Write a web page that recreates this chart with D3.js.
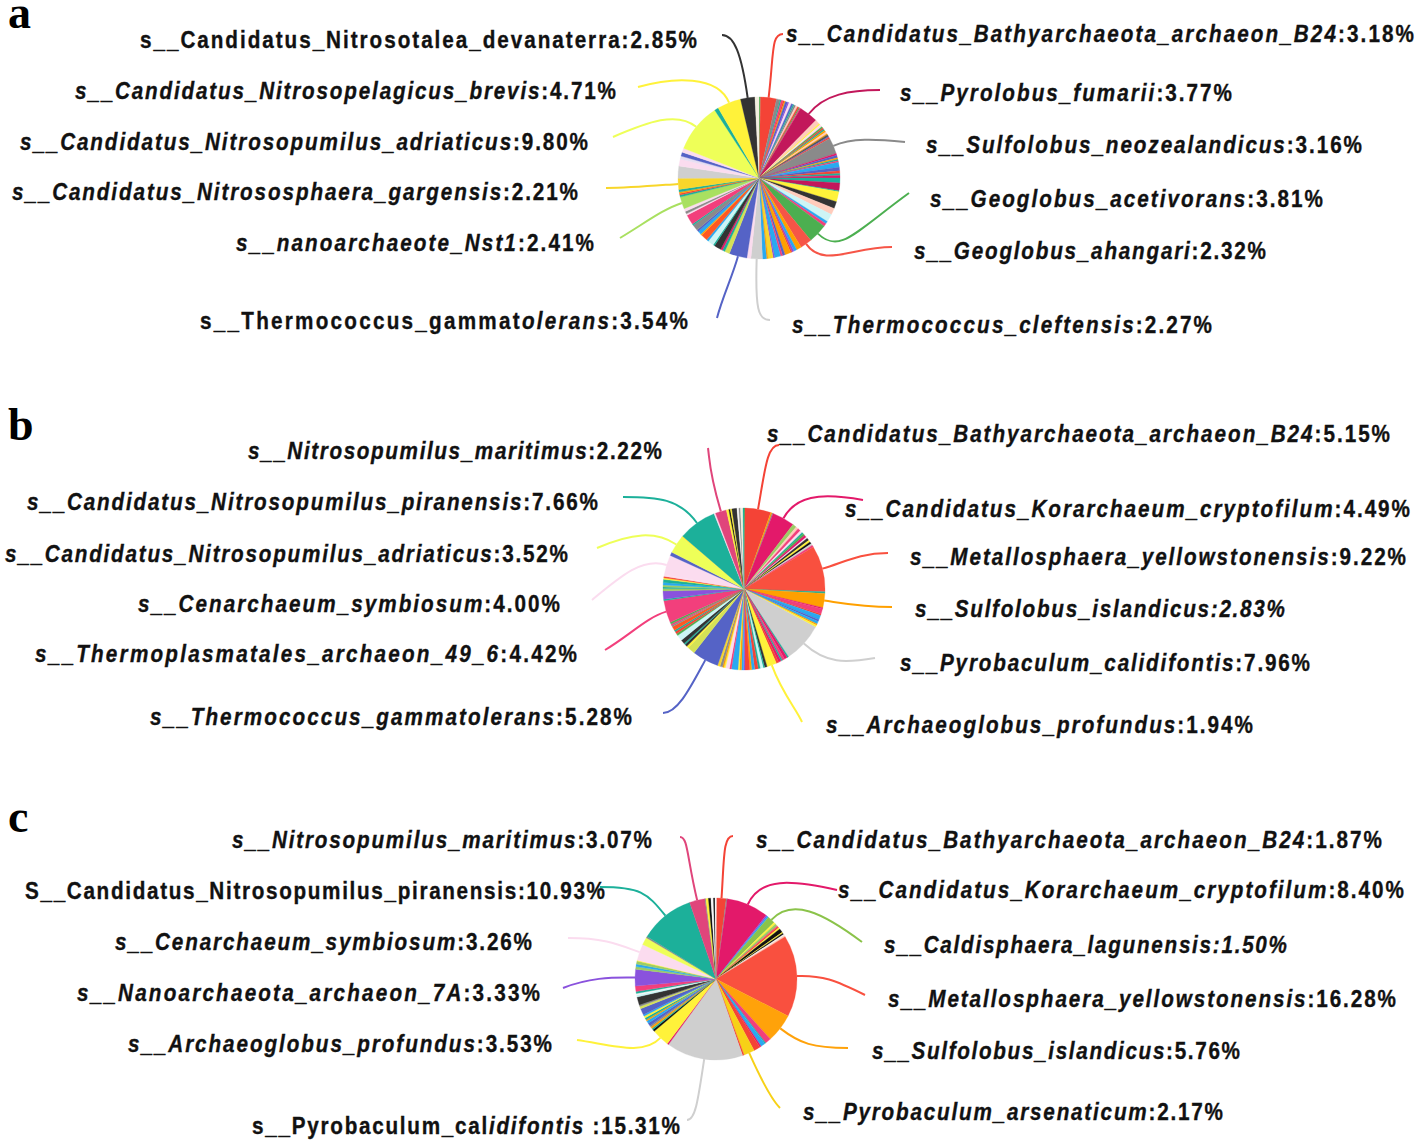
<!DOCTYPE html>
<html>
<head>
<meta charset="utf-8">
<script src="https://cdn.jsdelivr.net/npm/d3@7"></script>
<style>
  body { margin: 0; background: #fff; }
  text.lbl { font-family: "Liberation Sans", Arial, sans-serif; font-weight: bold; font-size: 23.5px; fill: #111; stroke: #111; stroke-width: 0.35px; }
  text.panel { font-family: "Liberation Serif", "DejaVu Serif", serif; font-weight: bold; font-size: 46px; fill: #000; }
</style>
</head>
<body>
<div id="chart"></div>
<script>
// palette
var R = "#f44336", RO = "#f9503f", OR = "#ff5722", O = "#ffa000", CR = "#e3196a", CRD = "#c2185b",
    HP = "#f23f7c", HPD = "#e0457b", T = "#1cb09a", Y = "#fff23a", LY = "#eeff58", GY = "#f8d62a",
    G = "#4caf50", LG = "#9ccc65", LG2 = "#a9e060", YG = "#d4e157", B = "#5563c6", SB = "#29a9f0",
    P = "#8a52dd", GR = "#8a8a8a", DG = "#555555", LGR = "#cfcfcf", DK = "#333333", BK = "#111111",
    PE = "#ffccbc", LP = "#fbdcef", LAV = "#e6def2", LC = "#cdf5f5", CM = "#f3efe0", W = "#f7f7f7";

function o(n) { return Array(n).fill(""); }

// ---- panel a : values (%), clockwise from 12 o'clock
var aValues = [
  0.3, 3.18,
  0.7, 0.25, 0.35, 0.3, 0.2, 0.45, 0.3, 0.5, 0.35, 0.25, 0.35, 0.4, 0.3, 0.2, 0.2,
  3.77,
  0.9, 0.3, 0.5, 0.3, 0.3, 0.3, 0.4, 0.4, 0.2, 0.4, 0.2, 0.3,
  3.16,
  0.4, 0.5, 0.3, 0.3, 0.3, 1.0, 0.7, 0.5, 0.4, 0.5, 1.0, 1.5, 0.2, 2.0, 1.4, 1.3, 1.6, 0.5, 0.6,
  3.81, 2.32,
  1.0, 0.6, 0.4, 0.3, 1.2, 0.5, 0.4, 1.2, 0.3, 1.0, 0.3, 0.8,
  2.27, 0.8, 3.54,
  1.0, 0.5, 0.4, 1.4, 0.3, 1.2, 0.4, 1.3, 0.3, 0.7, 0.4, 1.2, 0.3, 2.0, 0.3, 0.5, 0.6,
  2.41,
  0.4, 0.3, 0.3, 0.5,
  2.21,
  2.4, 1.4, 0.6, 0.8, 0.8,
  9.80, 0.8, 4.71, 2.85, 0.8
];
var aColors = [
  G, R,
  GR, T, HP, R, O, B, P, LP, B, T, GR, PE, R, G, HP,
  CRD,
  PE, Y, LP, G, R, T, O, PE, O, DG, B, R,
  GR,
  CR, B, O, T, HP, SB, B, R, T, CR, T, CRD, T, Y, DK, PE, LC, SB, HP,
  G, "#f65547",
  O, SB, P, R, O, B, HP, SB, P, GY, O, SB,
  LGR, LP, B,
  YG, T, CR, DK, T, LC, SB, OR, O, SB, B, GR, T, HP, LP, GR, LP,
  LG2,
  T, R, O, T,
  GY,
  LGR, LP, LAV, B, LP,
  LY, T, Y, DK, CM
];
var aNames = [].concat(
  "", "*s__Candidatus_Bathyarchaeota_archaeon_B24*",
  o(15),
  "*s__Pyrolobus_fumarii*",
  o(12),
  "*s__Sulfolobus_neozealandicus*",
  o(19),
  "*s__Geoglobus_acetivorans*", "*s__Geoglobus_ahangari*",
  o(12),
  "*s__Thermococcus_cleftensis*", "", "s__Thermococcus_gammat*olerans*",
  o(17),
  "*s__nanoarchaeote_Nst1*",
  o(4),
  "*s__Candidatus_Nitrososphaera_gargensis*",
  o(5),
  "*s__Candidatus_Nitrosopumilus_adriaticus*", "", "*s__Candidatus_Nitrosopelagicus_brevis*",
  "s__Candidatus_Nitrosotalea_devanaterra", ""
);

// ---- panel b
var bValues = [
  0.2, 5.15, 0.3, 0.2, 4.49,
  0.8, 0.5, 0.6, 0.5, 0.3, 0.4, 0.5, 0.3, 0.5, 0.4, 0.4, 0.4, 0.4,
  9.22, 0.3, 2.83,
  0.3, 1.0, 0.3, 0.9, 0.4, 0.5, 0.3, 0.4,
  7.96,
  0.3, 0.6, 0.5, 0.3, 0.5, 0.5,
  1.94,
  0.5, 0.3, 0.6, 0.4, 0.7, 0.6, 0.4, 0.9, 0.3, 0.4, 0.4, 0.3, 1.3, 0.4, 0.8, 0.3, 0.3, 0.5, 0.5,
  5.28,
  1.5, 0.4, 0.5, 0.3, 0.8, 1.2, 0.4, 0.5, 0.3, 0.8, 0.3, 0.3, 0.4,
  4.42,
  0.3, 1.6, 0.5, 0.3, 0.4, 0.5, 0.6, 0.3, 0.3, 0.3,
  4.00, 0.7, 3.52, 0.3, 7.66, 0.3, 2.22,
  0.5, 0.3, 0.3, 1.0, 0.4, 0.3, 0.5, 0.2
];
var bColors = [
  G, R, O, GR, CR,
  LG, PE, HP, LP, T, G, CR, LP, DK, Y, BK, LGR, HP,
  RO, T, O,
  CR, HP, R, SB, B, SB, O, Y,
  LGR,
  T, CR, HP, T, CR, R,
  Y,
  DK, T, LC, T, R, SB, O, R, P, SB, O, Y, SB, HP, LP, Y, O, GR, GY,
  B,
  YG, Y, DK, T, DK, LC, G, R, T, OR, GR, HP, G,
  HP,
  T, P, LG, T, LG, SB, T, Y, R, LP,
  LP, B, LY, Y, T, LP, HPD,
  Y, BK, Y, DK, W, GR, CM, T
];
var bNames = [].concat(
  "", "*s__Candidatus_Bathyarchaeota_archaeon_B24*", "", "", "*s__Candidatus_Korarchaeum_cryptofilum*",
  o(13),
  "*s__Metallosphaera_yellowstonensis*", "", "*s__Sulfolobus_islandicus",
  o(8),
  "*s__Pyrobaculum_calidifontis*",
  o(6),
  "*s__Archaeoglobus_profundus*",
  o(19),
  "*s__Thermococcus_gammatolerans*",
  o(13),
  "*s__Thermoplasmatales_archaeon_49_6*",
  o(10),
  "*s__Cenarchaeum_symbiosum*", "", "*s__Candidatus_Nitrosopumilus_adriaticus*", "",
  "*s__Candidatus_Nitrosopumilus_piranensis*", "", "*s__Nitrosopumilus_maritimus*",
  o(8)
);

// ---- panel c
var cValues = [
  0.15, 1.87, 0.2, 8.40, 0.3, 0.3, 1.50,
  0.4, 0.5, 0.2, 0.3, 0.3, 0.8, 0.2, 0.3, 0.25, 0.3,
  16.28, 5.76,
  1.2, 0.2, 0.9, 0.3, 1.3,
  2.17, 0.3, 15.31, 0.3, 3.53,
  0.4, 0.3, 0.4, 0.3, 0.6, 0.5, 0.3, 0.4, 0.4, 0.3, 1.3, 0.5, 0.3, 1.6, 0.4, 0.3, 0.4, 1.1,
  3.33,
  0.5, 0.5, 0.6, 0.2,
  3.26, 1.5, 0.3, 10.93, 3.07,
  0.2, 0.5, 0.5, 0.5, 0.3, 0.2
];
var cColors = [
  W, R, GR, CR, P, SB, "#8bc34a",
  Y, LG, HP, R, Y, BK, Y, BK, W, PE,
  RO, "#ffa20a",
  HP, T, SB, CR, R,
  "#f7d117", R, LGR, CR, Y,
  BK, T, O, GR, B, SB, O, T, Y, SB, B, YG, GR, DK, LC, W, T, HP,
  P,
  LG, SB, LG, Y,
  LP, LY, GR, T, HPD,
  GR, Y, BK, W, BK, W
];
var cNames = [].concat(
  "", "*s__Candidatus_Bathyarchaeota_archaeon_B24*", "", "*s__Candidatus_Korarchaeum_cryptofilum*", "", "",
  "*s__Caldisphaera_lagunensis",
  o(10),
  "*s__Metallosphaera_yellowstonensis*", "*s__Sulfolobus_islandicus*",
  o(5),
  "*s__Pyrobaculum_arsenaticum*", "", "s__Pyrobaculum_cal*idifontis *", "", "*s__Archaeoglobus_profundus*",
  o(18),
  "*s__Nanoarchaeota_archaeon_7A*",
  o(4),
  "*s__Cenarchaeum_symbiosum*", "", "", "S__Candidatus_Nitrosopumilus_piranensis", "*s__Nitrosopumilus_maritimus*",
  o(6)
);

// ---- label layout (clockwise order of labelled slices)
var aLayout = [
  {x0: 786, x1: 1414, y: 42, end: [783, 34], l1: 45, c2: [-12, 0]},
  {x0: 900, x1: 1232, y: 101, end: [880, 90], l1: 25, c2: [-30, 0]},
  {x0: 926, x1: 1362, y: 153, end: [905, 142], l1: 20, c2: [-30, -3]},
  {x0: 930, x1: 1323, y: 207, end: [909, 193], l1: 30, c2: [-55, 40]},
  {x0: 914, x1: 1266, y: 259, end: [892, 247], l1: 30, c2: [-40, 0]},
  {x0: 792, x1: 1212, y: 333, end: [770, 320], l1: 50, c2: [-12, 0]},
  {x0: 200, x1: 688, y: 329, end: [717, 318], l1: 20, c2: [5, -20]},
  {x0: 236, x1: 594, y: 251, end: [620, 238], l1: 20, c2: [25, -15]},
  {x0: 12, x1: 578, y: 200, end: [606, 188], l1: 20, c2: [25, 0]},
  {x0: 20, x1: 588, y: 150, end: [613, 137], l1: 25, c2: [35, -15]},
  {x0: 75, x1: 616, y: 99, end: [638, 87], l1: 30, c2: [35, -10]},
  {x0: 140, x1: 697, y: 48, end: [722, 35], l1: 45, c2: [12, 0]}
];
var bLayout = [
  {x0: 767, x1: 1390, y: 442, end: [779, 445], l1: 40, c2: [-12, 0]},
  {x0: 845, x1: 1410, y: 517, end: [863, 500], l1: 25, c2: [-45, -8]},
  {x0: 910, x1: 1406, y: 565, end: [888, 553], l1: 20, c2: [-30, 0]},
  {x0: 915, x1: 1285, y: 617, end: [892, 607], l1: 20, c2: [-30, 0]},
  {x0: 900, x1: 1310, y: 671, end: [875, 658], l1: 30, c2: [-30, 5]},
  {x0: 826, x1: 1253, y: 733, end: [802, 722], l1: 30, c2: [-5, -12]},
  {x0: 150, x1: 632, y: 725, end: [663, 713], l1: 30, c2: [15, 0]},
  {x0: 35, x1: 577, y: 662, end: [605, 650], l1: 20, c2: [25, -15]},
  {x0: 138, x1: 560, y: 612, end: [592, 600], l1: 25, c2: [30, -25]},
  {x0: 5, x1: 568, y: 562, end: [597, 548], l1: 25, c2: [35, -15]},
  {x0: 27, x1: 598, y: 510, end: [623, 497], l1: 30, c2: [35, 0]},
  {x0: 248, x1: 662, y: 459, end: [708, 448], l1: 40, c2: [2, 15]}
];
var cLayout = [
  {x0: 756, x1: 1382, y: 848, end: [733, 836], l1: 40, c2: [-10, 0]},
  {x0: 838, x1: 1404, y: 898, end: [837, 890], l1: 30, c2: [-45, -10]},
  {x0: 884, x1: 1287, y: 953, end: [862, 942], l1: 30, c2: [-40, -30]},
  {x0: 888, x1: 1396, y: 1007, end: [865, 995], l1: 25, c2: [-30, -15]},
  {x0: 872, x1: 1240, y: 1059, end: [848, 1048], l1: 25, c2: [-35, 0]},
  {x0: 803, x1: 1223, y: 1120, end: [780, 1108], l1: 40, c2: [-5, -5]},
  {x0: 252, x1: 680, y: 1134, end: [687, 1120], l1: 45, c2: [8, 0]},
  {x0: 128, x1: 552, y: 1052, end: [577, 1040], l1: 25, c2: [35, 5]},
  {x0: 77, x1: 540, y: 1001, end: [563, 988], l1: 25, c2: [25, -10]},
  {x0: 115, x1: 532, y: 950, end: [568, 938], l1: 20, c2: [40, 0]},
  {x0: 25, x1: 605, y: 899, end: [600, 887], l1: 30, c2: [40, 0]},
  {x0: 232, x1: 652, y: 848, end: [680, 837], l1: 45, c2: [8, 0]}
];

var W0 = 1418, H0 = 1144, radius = 81, squeeze = 0.88;
var svg = d3.select("#chart").append("svg").attr("width", W0).attr("height", H0);

var panels = [
  {letter: "a", ly: 28, cx: 759, cy: 178, values: aValues, colors: aColors, names: aNames, layout: aLayout},
  {letter: "b", ly: 440, cx: 744, cy: 589, values: bValues, colors: bColors, names: bNames, layout: bLayout},
  {letter: "c", ly: 832, cx: 716, cy: 979, values: cValues, colors: cColors, names: cNames, layout: cLayout}
];

var pie = d3.pie().sort(null).value(function (d) { return d.value; });
var arc = d3.arc().innerRadius(0).outerRadius(radius);
var fmt = d3.format(".2f");

panels.forEach(function (p) {
  if (p.values.length !== p.colors.length || p.values.length !== p.names.length)
    throw new Error("panel " + p.letter + " lengths " + p.values.length + "/" + p.colors.length + "/" + p.names.length);

  var data = p.values.map(function (v, i) { return {value: v, color: p.colors[i], name: p.names[i]}; });
  var arcs = pie(data);

  svg.append("text").attr("class", "panel").attr("x", 8).attr("y", p.ly).text(p.letter);

  var g = svg.append("g").attr("transform", "translate(" + p.cx + "," + p.cy + ")");
  g.selectAll("path.slice").data(arcs).enter().append("path")
    .attr("class", "slice")
    .attr("d", arc)
    .attr("fill", function (d) { return d.data.color; })
    .attr("stroke", function (d) { return d.data.color; })
    .attr("stroke-width", 0.3);

  var labelled = arcs.filter(function (d) { return d.data.name !== ""; });
  labelled.forEach(function (d, i) {
    var lay = p.layout[i];
    var a = (d.startAngle + d.endAngle) / 2;
    var u = [Math.sin(a), -Math.cos(a)];
    var p0 = [p.cx + u[0] * radius, p.cy + u[1] * radius];
    var c1 = [p0[0] + u[0] * lay.l1, p0[1] + u[1] * lay.l1];
    var c2 = [lay.end[0] + lay.c2[0], lay.end[1] + lay.c2[1]];
    var path = d3.path();
    path.moveTo(p0[0], p0[1]);
    path.bezierCurveTo(c1[0], c1[1], c2[0], c2[1], lay.end[0], lay.end[1]);
    svg.append("path").attr("d", path.toString())
      .attr("fill", "none").attr("stroke", d.data.color).attr("stroke-width", 2);

    // condensed look: squeeze glyphs horizontally, spread letters to the read width
    var full = d.data.name + ":" + fmt(d.value) + "%";
    var t = svg.append("g")
      .attr("transform", "translate(" + lay.x0 + "," + lay.y + ") scale(" + squeeze + ",1)")
      .append("text").attr("class", "lbl")
      .attr("x", 0).attr("y", 0)
      .attr("textLength", (lay.x1 - lay.x0) / squeeze).attr("lengthAdjust", "spacing");
    full.split("*").forEach(function (s, k) {
      if (s) t.append("tspan").attr("font-style", k % 2 ? "italic" : "normal").text(s);
    });
  });
});
</script>
</body>
</html>
